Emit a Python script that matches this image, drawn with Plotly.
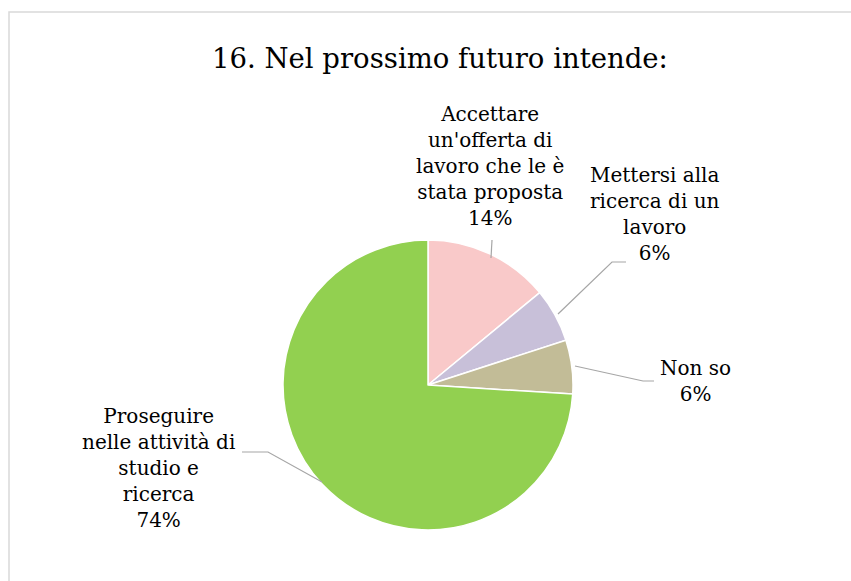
import plotly.graph_objects as go

W, H = 851, 581

labels = ["Accettare un'offerta di lavoro che le è stata proposta",
          "Mettersi alla ricerca di un lavoro",
          "Non so",
          "Proseguire nelle attività di studio e ricerca"]
label_lines = ["Accettare<br>un'offerta di<br>lavoro che le è<br>stata proposta",
               "Mettersi alla<br>ricerca di un<br>lavoro",
               "Non so",
               "Proseguire<br>nelle attività di<br>studio e<br>ricerca"]
values = [14, 6, 6, 74]
colors = ["#F9C9C9", "#C8C0D9", "#C2BC97", "#92D050"]
title = "16. Nel prossimo futuro intende:"

FONT = "DejaVu Serif"

def px(x):
    return x / W

def py(y):
    return 1 - y / H

cx, cy, r = 428, 385, 145

fig = go.Figure(go.Pie(
    labels=labels,
    values=values,
    sort=False,
    direction="clockwise",
    rotation=0,
    marker=dict(colors=colors, line=dict(color="white", width=1.5)),
    textinfo="none",
    hoverinfo="label+percent",
    showlegend=False,
    domain=dict(x=[px(cx - r), px(cx + r)], y=[py(cy + r), py(cy - r)]),
))

# label anchor positions (pixel centres) and leader lines
label_pos = [(490, 166), (655, 214), (695, 381), (158, 468)]
leaders = [
    [(492, 240), (491, 258)],
    [(626, 262), (612, 262), (558, 314)],
    [(654, 381), (643, 381), (575, 366)],
    [(242, 452), (268, 452), (322, 482)],
]

annotations = [dict(text=title, x=0.517, y=py(58), xref="paper", yref="paper",
                    showarrow=False, font=dict(family=FONT, size=27.5, color="#000000"),
                    xanchor="center", yanchor="middle")]
for (lx, ly), txt, v in zip(label_pos, label_lines, values):
    annotations.append(dict(
        text=f"{txt}<br>{v}%", x=px(lx), y=py(ly), xref="paper", yref="paper",
        showarrow=False, align="center", xanchor="center", yanchor="middle",
        font=dict(family=FONT, size=20, color="#000000"),
    ))

shapes = [dict(type="rect", xref="paper", yref="paper",
               x0=px(9), y0=-0.05, x1=1.05, y1=py(12),
               line=dict(color="#D9D9D9", width=1.5), fillcolor="rgba(0,0,0,0)")]
for pts in leaders:
    path = "M " + " L ".join(f"{px(x)},{py(y)}" for x, y in pts)
    shapes.append(dict(type="path", xref="paper", yref="paper", path=path,
                       line=dict(color="#A6A6A6", width=1.2)))

fig.update_layout(
    width=W, height=H,
    margin=dict(l=0, r=0, t=0, b=0),
    paper_bgcolor="white", plot_bgcolor="white",
    annotations=annotations, shapes=shapes,
)

fig.write_html("out.html")
